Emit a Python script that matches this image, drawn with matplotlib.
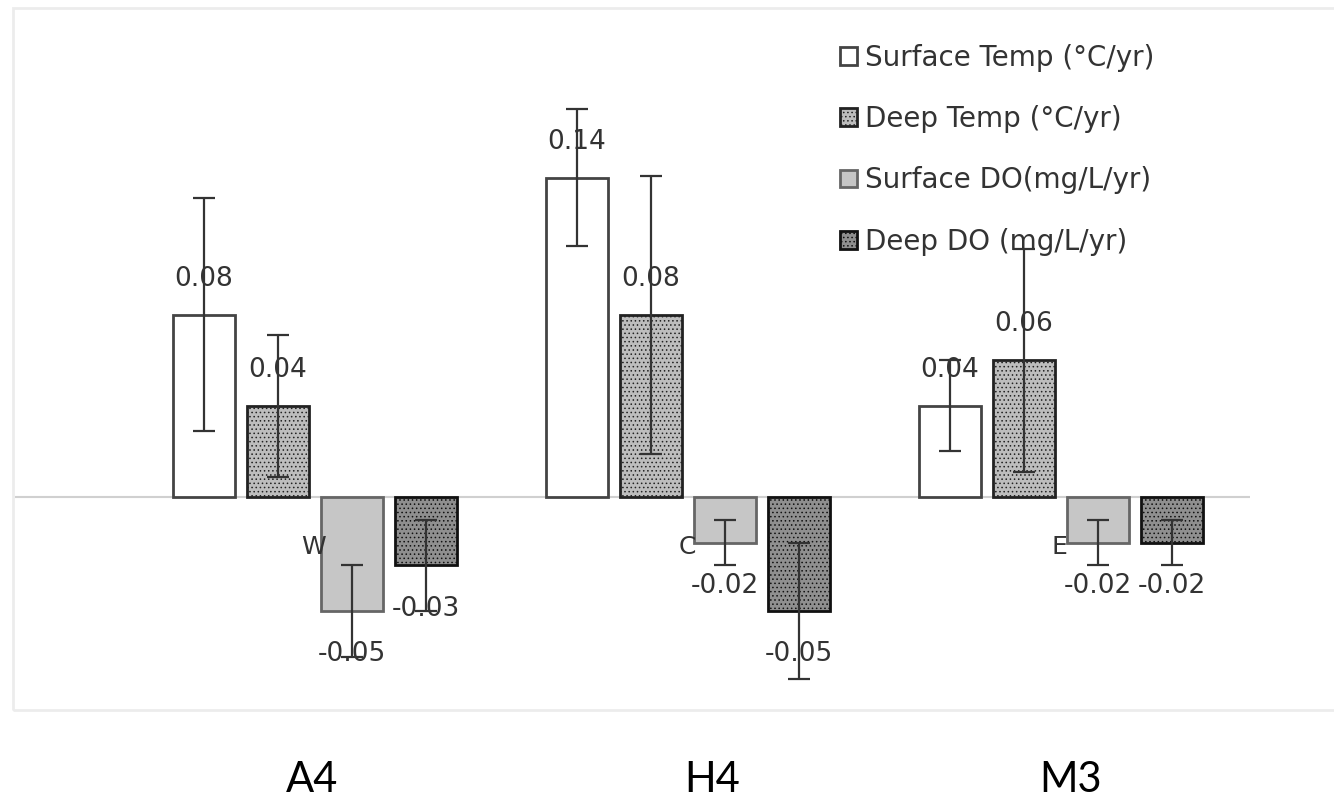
import numpy as np
import matplotlib
matplotlib.use("Agg")
import matplotlib.pyplot as plt
from matplotlib.patches import Rectangle

# ----------------------------------------
# Data
# ----------------------------------------
sites = ["A4", "H4", "M3"]
series = ["Surface Temp (°C/yr)", "Deep Temp (°C/yr)",
          "Surface DO(mg/L/yr)", "Deep DO (mg/L/yr)"]

surface_temp = [0.08, 0.14, 0.04]
deep_temp = [0.04, 0.08, 0.06]
surface_do = [-0.05, -0.02, -0.02]
deep_do = [-0.03, -0.05, -0.02]

surface_temp_err = [0.051, 0.030, 0.020]
deep_temp_err = [0.031, 0.061, 0.049]
surface_do_err = [0.020, 0.010, 0.010]
deep_do_err = [0.020, 0.030, 0.010]

stray_letters = ["W", "C", "E"]   # leftover text fragments in the image

# ----------------------------------------
# Styles
# ----------------------------------------
values = [surface_temp, deep_temp, surface_do, deep_do]
errors = [surface_temp_err, deep_temp_err, surface_do_err, deep_do_err]
faces = ["white", "#bdbdbd", "#c6c6c6", "#8f8f8f"]
edges = ["#444444", "#222222", "#666666", "#111111"]
hatches = [None, "....", None, "...."]

plt.rcParams["hatch.linewidth"] = 0.6
plt.rcParams["font.family"] = ["DejaVu Sans"]

fig = plt.figure(figsize=(13.34, 8), dpi=100)

# faint frame around the embedded chart
fig.patches.append(Rectangle((13 / 1334, 90 / 800), 1.0, 702 / 800,
                             transform=fig.transFigure, fill=False,
                             edgecolor="#ececec", linewidth=2))

ax = fig.add_axes([15 / 1334, 90 / 800, 1235 / 1334, 702 / 800])
ax.set_xlim(-0.804, 2.507)
ax.set_ylim(-0.0934, 0.2145)
ax.axis("off")

x = np.arange(len(sites))
width = 0.166
step = 0.198

ax.axhline(0, color="#d0d0d0", linewidth=1.5, zorder=1)

for i, (vals, errs) in enumerate(zip(values, errors)):
    pos = x + (i - 1.5) * step
    ax.bar(pos, vals, width, color=faces[i], edgecolor=edges[i],
           hatch=hatches[i], linewidth=2, label=series[i], zorder=2)
    ax.errorbar(pos, vals, yerr=errs, fmt="none", ecolor="#333333",
                elinewidth=1.6, capsize=8, capthick=1.6, zorder=3)
    for xp, v in zip(pos, vals):
        off = 26 if v > 0 else -31
        ax.annotate(f"{v:.2f}", (xp, v), xytext=(0, off),
                    textcoords="offset points", ha="center", va="center",
                    fontsize=19, color="#333333", zorder=4)

# stray letters left of the Surface DO bars
for k, s in enumerate(stray_letters):
    ax.annotate(s, (x[k] + 0.5 * step - width / 2, 0), xytext=(-5, -36),
                textcoords="offset points", ha="center", va="center",
                fontsize=18, color="#333333")

ax.legend(loc="upper left", bbox_to_anchor=(800 / 1235, 0.985),
          frameon=False, fontsize=20, handlelength=0.6, handleheight=0.6,
          handletextpad=0.3, labelspacing=1.2, labelcolor="#333333")

# site names below the chart
site_x = [312, 712, 1071]
for s, px in zip(sites, site_x):
    fig.text(px / 1334, 1 - 780 / 800, s, ha="center", va="center",
             fontsize=30, family="Lato")

fig.savefig("out.png", dpi=100, facecolor="white")
